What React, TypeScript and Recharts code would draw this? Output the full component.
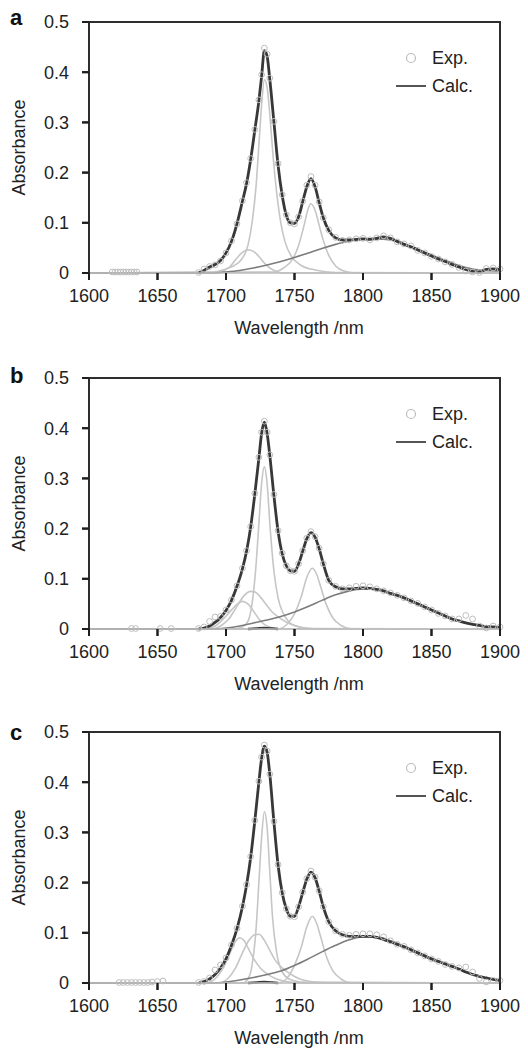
import { ComposedChart, Line, XAxis, YAxis } from "recharts";

const FONT = "'Liberation Sans', Arial, Helvetica, sans-serif";
const CALC_COLOR = "#383838";
const PEAK_COLOR = "#c6c6c6";
const BROAD_COLOR = "#7c7c7c";
const EXP_COLOR = "#bdbdbd";
const FRAME_COLOR = "#2e2e2e";
const TEXT_COLOR = "#222";
const TICK_LEN = 7;

// chart box (same numbers feed the Recharts margins)
const CHART_W = 528;
const CHART_H = 338;
const PLOT_LEFT = 89;
const PLOT_TOP = 22;
const PLOT_RIGHT_PAD = 28;
const X_AXIS_H = 40;
const BOTTOM_PAD = 25;
const PLOT_W = CHART_W - PLOT_LEFT - PLOT_RIGHT_PAD;
const PLOT_H = CHART_H - PLOT_TOP - X_AXIS_H - BOTTOM_PAD;

const X_MIN = 1600;
const X_MAX = 1900;
const Y_MAX = 0.5;
const X_TICKS = [1600, 1650, 1700, 1750, 1800, 1850, 1900];
const Y_TICKS = [0, 0.1, 0.2, 0.3, 0.4, 0.5];

// measured grid, nm
const WL = [
  1680, 1684, 1688, 1692, 1696,
  1700, 1704, 1708, 1712, 1715,
  1718, 1721, 1724, 1726, 1728,
  1730, 1732, 1735, 1738, 1741,
  1744, 1747, 1750, 1753, 1756,
  1759, 1762, 1765, 1768, 1771,
  1775, 1780, 1785, 1790, 1795,
  1800, 1805, 1810, 1815, 1820,
  1825, 1830, 1835, 1840, 1845,
  1850, 1855, 1860, 1865, 1870,
  1875, 1880, 1885, 1890, 1895,
  1900,
];

// ---- panel a ----
const CALC_A = [
  0, 0.005, 0.012, 0.017, 0.025,
  0.04, 0.063, 0.098, 0.143, 0.178,
  0.226, 0.284, 0.343, 0.392, 0.443,
  0.432, 0.385, 0.3, 0.215, 0.155,
  0.115, 0.1, 0.099, 0.112, 0.142,
  0.172, 0.188, 0.172, 0.14, 0.11,
  0.085, 0.07, 0.066, 0.066, 0.067,
  0.068, 0.067, 0.069, 0.072, 0.069,
  0.063, 0.057, 0.052, 0.046, 0.04,
  0.034, 0.028, 0.023, 0.017, 0.012,
  0.007, 0.003, 0.002, 0.007, 0.008,
  0.007,
];
const EXP_A = [
  0.001, 0.008, 0.013, 0.016, 0.024,
  0.04, 0.064, 0.098, 0.144, 0.18,
  0.228, 0.286, 0.345, 0.395, 0.448,
  0.436, 0.388, 0.302, 0.218, 0.156,
  0.116, 0.1, 0.098, 0.112, 0.143,
  0.175, 0.192, 0.175, 0.142, 0.11,
  0.086, 0.071, 0.065, 0.066, 0.068,
  0.069, 0.066, 0.07, 0.074, 0.07,
  0.062, 0.058, 0.054, 0.045, 0.04,
  0.033, 0.028, 0.022, 0.017, 0.011,
  0.004, 0.002, 0.001, 0.009, 0.01,
  0.008,
];
const EXP_LOW_A_WL = [1617, 1619, 1621, 1623, 1625, 1627, 1629, 1631, 1633, 1635];
const EXP_LOW_A = [0.002, 0.002, 0.002, 0.002, 0.002, 0.002, 0.002, 0.002, 0.002, 0.002];

const SMALL_A_WL = [1600, 1694, 1698, 1703, 1708, 1712, 1716, 1720, 1724, 1728, 1732, 1736, 1742, 1900];
const SMALL_A = [0, 0, 0.004, 0.013, 0.03, 0.041, 0.046, 0.043, 0.033, 0.02, 0.01, 0.004, 0, 0];
const MAIN_A_WL = [1600, 1690, 1700, 1706, 1711, 1716, 1719, 1722, 1724, 1726, 1728, 1730, 1732, 1734, 1737, 1740, 1743, 1748, 1755, 1765, 1780, 1900];
const MAIN_A = [0, 0.002, 0.008, 0.015, 0.026, 0.055, 0.1, 0.175, 0.255, 0.335, 0.385, 0.37, 0.315, 0.245, 0.16, 0.1, 0.063, 0.032, 0.015, 0.006, 0.001, 0];
const SIDE_A_WL = [1600, 1735, 1742, 1748, 1753, 1757, 1760, 1762, 1765, 1768, 1771, 1775, 1780, 1786, 1795, 1900];
const SIDE_A = [0, 0.002, 0.01, 0.025, 0.055, 0.095, 0.128, 0.138, 0.125, 0.095, 0.065, 0.035, 0.014, 0.004, 0, 0];

const BROAD_WL = [1600, 1690, 1700, 1710, 1720, 1730, 1740, 1750, 1760, 1770, 1780, 1790, 1800, 1810, 1820, 1830, 1840, 1850, 1860, 1870, 1880, 1890, 1900];
const BROAD_A = [0, 0, 0.002, 0.005, 0.01, 0.016, 0.023, 0.031, 0.04, 0.049, 0.057, 0.064, 0.067, 0.068, 0.066, 0.058, 0.047, 0.036, 0.025, 0.015, 0.008, 0.005, 0.004];

// ---- panel b ----
const CALC_B = [
  0, 0.002, 0.006, 0.013, 0.023,
  0.037, 0.057, 0.085, 0.12, 0.155,
  0.203, 0.268, 0.34, 0.39, 0.412,
  0.39, 0.345, 0.265, 0.195, 0.15,
  0.126, 0.116, 0.115, 0.13, 0.155,
  0.18, 0.192, 0.183, 0.16, 0.13,
  0.097, 0.084, 0.08, 0.08, 0.081,
  0.082, 0.081, 0.079, 0.076, 0.071,
  0.067, 0.062, 0.056, 0.05, 0.044,
  0.038, 0.032, 0.026, 0.02, 0.016,
  0.012, 0.009, 0.007, 0.005, 0.004,
  0.003,
];
const EXP_B = [
  0.001, 0.004, 0.015, 0.024, 0.025,
  0.038, 0.058, 0.086, 0.121, 0.156,
  0.204, 0.27, 0.342, 0.392, 0.414,
  0.392, 0.347, 0.268, 0.196, 0.151,
  0.126, 0.116, 0.115, 0.13, 0.156,
  0.181, 0.194, 0.184, 0.161, 0.13,
  0.097, 0.085, 0.08, 0.082, 0.085,
  0.086, 0.084, 0.08, 0.076, 0.072,
  0.067, 0.062, 0.056, 0.051, 0.044,
  0.038, 0.031, 0.026, 0.02, 0.02,
  0.027, 0.02, 0.006, 0.002, 0.006,
  0.004,
];
const EXP_LOW_B_WL = [1631, 1634, 1652, 1660];
const EXP_LOW_B = [0.001, 0.001, 0.001, 0.001];

const LOW1_B_WL = [1600, 1685, 1692, 1698, 1704, 1709, 1712, 1716, 1720, 1724, 1728, 1733, 1740, 1900];
const LOW1_B = [0, 0, 0.006, 0.02, 0.038, 0.051, 0.055, 0.05, 0.036, 0.02, 0.009, 0.003, 0, 0];
const LOW2_B_WL = [1600, 1690, 1696, 1702, 1708, 1713, 1718, 1721, 1725, 1729, 1733, 1738, 1744, 1750, 1758, 1770, 1900];
const LOW2_B = [0, 0, 0.006, 0.02, 0.045, 0.066, 0.075, 0.074, 0.064, 0.05, 0.036, 0.024, 0.014, 0.007, 0.002, 0, 0];
const MAIN_B_WL = [1600, 1705, 1712, 1716, 1719, 1722, 1724, 1726, 1728, 1730, 1732, 1735, 1738, 1742, 1746, 1752, 1760, 1900];
const MAIN_B = [0, 0, 0.004, 0.015, 0.05, 0.13, 0.21, 0.29, 0.323, 0.29, 0.21, 0.115, 0.062, 0.03, 0.014, 0.005, 0.001, 0];
const SIDE_B_WL = [1600, 1738, 1744, 1750, 1755, 1759, 1763, 1766, 1769, 1773, 1778, 1784, 1792, 1900];
const SIDE_B = [0, 0, 0.008, 0.03, 0.065, 0.103, 0.121, 0.11, 0.085, 0.05, 0.022, 0.007, 0, 0];
const BROAD_B = [0, 0, 0.002, 0.006, 0.012, 0.018, 0.025, 0.034, 0.045, 0.057, 0.068, 0.076, 0.08, 0.079, 0.072, 0.062, 0.05, 0.038, 0.026, 0.016, 0.009, 0.005, 0.003];

const RESID_WL = [1716, 1722, 1728, 1734, 1738];
const RESID_B = [0, 0.001, 0.002, 0.001, 0];

// ---- panel c ----
const CALC_C = [
  0, 0.003, 0.008, 0.017, 0.03,
  0.048, 0.075, 0.108, 0.152, 0.195,
  0.25, 0.322, 0.4, 0.448, 0.472,
  0.46, 0.415, 0.32, 0.235, 0.18,
  0.148, 0.133, 0.133, 0.152, 0.18,
  0.207, 0.221, 0.21, 0.183, 0.152,
  0.122, 0.104, 0.096, 0.093, 0.093,
  0.093, 0.093, 0.091, 0.087, 0.082,
  0.077, 0.072, 0.066, 0.06, 0.054,
  0.048, 0.043, 0.038, 0.033, 0.028,
  0.022, 0.017, 0.013, 0.01, 0.007,
  0.005,
];
const EXP_C = [
  0.001, 0.003, 0.01, 0.026, 0.036,
  0.05, 0.076, 0.109, 0.153, 0.196,
  0.252, 0.324, 0.402, 0.45, 0.474,
  0.462, 0.416, 0.322, 0.236, 0.18,
  0.148, 0.133, 0.132, 0.152, 0.181,
  0.208, 0.223, 0.211, 0.184, 0.152,
  0.122, 0.104, 0.097, 0.095, 0.097,
  0.098, 0.098, 0.096, 0.092, 0.084,
  0.077, 0.073, 0.066, 0.06, 0.054,
  0.048, 0.043, 0.037, 0.033, 0.03,
  0.032, 0.022, 0.009, 0.002, 0.005,
  0.005,
];
const EXP_LOW_C_WL = [1622, 1625, 1628, 1631, 1634, 1637, 1640, 1643, 1646, 1650, 1654];
const EXP_LOW_C = [0.001, 0.001, 0.001, 0.001, 0.001, 0.001, 0.001, 0.001, 0.002, 0.003, 0.004];

const LOW1_C_WL = [1600, 1686, 1692, 1698, 1703, 1707, 1710, 1713, 1717, 1721, 1725, 1730, 1736, 1744, 1755, 1900];
const LOW1_C = [0, 0, 0.008, 0.03, 0.06, 0.083, 0.09, 0.085, 0.065, 0.045, 0.03, 0.018, 0.009, 0.003, 0, 0];
const LOW2_C_WL = [1600, 1695, 1701, 1707, 1712, 1717, 1721, 1724, 1728, 1732, 1736, 1741, 1747, 1754, 1762, 1775, 1900];
const LOW2_C = [0, 0, 0.008, 0.03, 0.06, 0.086, 0.096, 0.097, 0.085, 0.065, 0.045, 0.03, 0.018, 0.008, 0.003, 0, 0];
const MAIN_C_WL = [1600, 1712, 1716, 1719, 1722, 1724, 1726, 1728, 1730, 1732, 1734, 1737, 1741, 1746, 1755, 1900];
const MAIN_C = [0, 0, 0.008, 0.035, 0.11, 0.2, 0.29, 0.341, 0.31, 0.22, 0.13, 0.06, 0.022, 0.008, 0.002, 0];
const SIDE_C_WL = [1600, 1738, 1744, 1750, 1755, 1759, 1763, 1766, 1769, 1773, 1778, 1784, 1792, 1900];
const SIDE_C = [0, 0, 0.008, 0.035, 0.072, 0.112, 0.133, 0.12, 0.093, 0.055, 0.024, 0.008, 0, 0];
const BROAD_C = [0, 0, 0.002, 0.006, 0.011, 0.017, 0.024, 0.035, 0.048, 0.062, 0.075, 0.086, 0.092, 0.092, 0.084, 0.073, 0.061, 0.049, 0.038, 0.028, 0.018, 0.01, 0.005];
const RESID_C = [0, 0.001, 0.002, 0.001, 0];

type Pt = { x: number; y: number };
const pts = (xs: number[], ys: number[]): Pt[] => xs.map((x, i) => ({ x, y: ys[i] }));

// pixel position of an axis tick inside the plot box (for the frame overlay)
const tickX = (v: number) => PLOT_LEFT + ((v - X_MIN) / (X_MAX - X_MIN)) * PLOT_W;
const tickY = (v: number) => PLOT_TOP + PLOT_H - (v / Y_MAX) * PLOT_H;

interface PanelProps {
  letter: string;
  letterY: number;
  top: number;
  calc: Pt[];
  exp: Pt[];
  expLow: Pt[];
  peaks: Pt[][];
  broad: Pt[];
  resid?: Pt[];
}

function LegendBox() {
  return (
    <div style={{ position: "absolute", top: 44, left: 396, fontFamily: FONT, fontSize: 18, color: TEXT_COLOR, lineHeight: "28px" }}>
      <div style={{ display: "flex", alignItems: "center", height: 28 }}>
        <svg width={30} height={28} style={{ marginRight: 6 }}>
          <circle cx={15} cy={14} r={4.5} fill="none" stroke={EXP_COLOR} strokeWidth={1.2} />
        </svg>
        <span>Exp.</span>
      </div>
      <div style={{ display: "flex", alignItems: "center", height: 28 }}>
        <svg width={30} height={28} style={{ marginRight: 6 }}>
          <line x1={0} y1={14} x2={30} y2={14} stroke="#555" strokeWidth={2} />
        </svg>
        <span>Calc.</span>
      </div>
    </div>
  );
}

function Panel({ letter, letterY, top, calc, exp, expLow, peaks, broad, resid }: PanelProps) {
  const expDot = { r: 2.9, stroke: EXP_COLOR, strokeWidth: 1, fill: "none" };
  const tickFont = { fontSize: 18, fontFamily: FONT, fill: TEXT_COLOR };
  const plotBottom = PLOT_TOP + PLOT_H;
  const plotRight = PLOT_LEFT + PLOT_W;
  return (
    <div style={{ position: "absolute", left: 0, top, width: CHART_W, height: CHART_H }}>
      <ComposedChart width={CHART_W} height={CHART_H} margin={{ top: PLOT_TOP, right: PLOT_RIGHT_PAD, bottom: BOTTOM_PAD, left: 0 }}>
        <XAxis
          dataKey="x"
          type="number"
          domain={[X_MIN, X_MAX]}
          ticks={X_TICKS}
          height={X_AXIS_H}
          tickSize={TICK_LEN}
          tickMargin={9}
          axisLine={{ stroke: "#bdbdbd", strokeWidth: 1.5 }}
          tickLine={{ stroke: "#1e1e1e", strokeWidth: 2 }}
          tick={tickFont}
        />
        <YAxis
          type="number"
          domain={[0, Y_MAX]}
          ticks={Y_TICKS}
          width={PLOT_LEFT}
          tickSize={TICK_LEN}
          tickMargin={13}
          axisLine={{ stroke: FRAME_COLOR, strokeWidth: 2 }}
          tickLine={{ stroke: "#1e1e1e", strokeWidth: 2 }}
          tick={tickFont}
        />
        {peaks.map((p, i) => (
          <Line key={i} data={p} dataKey="y" type="monotone" stroke={PEAK_COLOR} strokeWidth={1.6} dot={false} isAnimationActive={false} />
        ))}
        <Line data={broad} dataKey="y" type="monotone" stroke={BROAD_COLOR} strokeWidth={1.6} dot={false} isAnimationActive={false} />
        <Line data={exp} dataKey="y" stroke="none" dot={expDot} activeDot={false} isAnimationActive={false} />
        <Line data={expLow} dataKey="y" stroke="none" dot={expDot} activeDot={false} isAnimationActive={false} />
        <Line data={calc} dataKey="y" type="monotone" stroke={CALC_COLOR} strokeWidth={2.8} dot={false} isAnimationActive={false} />
        {resid && <Line data={resid} dataKey="y" type="monotone" stroke={CALC_COLOR} strokeWidth={2.4} dot={false} isAnimationActive={false} />}
      </ComposedChart>
      {/* box frame, outward tick marks and titles */}
      <svg style={{ position: "absolute", left: 0, top: 0, pointerEvents: "none" }} width={CHART_W} height={CHART_H}>
        <polyline
          points={`${PLOT_LEFT},${PLOT_TOP} ${plotRight},${PLOT_TOP} ${plotRight},${plotBottom}`}
          fill="none"
          stroke={FRAME_COLOR}
          strokeWidth={2}
        />
        <line x1={PLOT_LEFT} y1={PLOT_TOP} x2={PLOT_LEFT} y2={plotBottom} stroke={FRAME_COLOR} strokeWidth={2} />
        {X_TICKS.map((t) => (
          <line key={`x${t}`} x1={tickX(t)} y1={plotBottom} x2={tickX(t)} y2={plotBottom + TICK_LEN} stroke="#1e1e1e" strokeWidth={2} />
        ))}
        {Y_TICKS.map((t) => (
          <line key={`y${t}`} x1={PLOT_LEFT - TICK_LEN} y1={tickY(t)} x2={PLOT_LEFT} y2={tickY(t)} stroke="#1e1e1e" strokeWidth={2} />
        ))}
        <text x={10} y={letterY} fontFamily={FONT} fontWeight="bold" fontSize={22} fill="#111">
          {letter}
        </text>
        <text x={0} y={0} transform="translate(25 147.5) rotate(-90)" textAnchor="middle" fontFamily={FONT} fontSize={18} fill={TEXT_COLOR}>
          Absorbance
        </text>
        <text x={299} y={334} textAnchor="middle" fontFamily={FONT} fontSize={18} fill={TEXT_COLOR}>
          Wavelength /nm
        </text>
      </svg>
      <LegendBox />
    </div>
  );
}

export default function App() {
  return (
    <div style={{ position: "absolute", left: 0, top: 0, width: 528, height: 1048, overflow: "hidden", background: "#fff" }}>
      <Panel
        letter="a"
        letterY={25}
        top={0}
        calc={pts(WL, CALC_A)}
        exp={pts(WL, EXP_A)}
        expLow={pts(EXP_LOW_A_WL, EXP_LOW_A)}
        peaks={[pts(SMALL_A_WL, SMALL_A), pts(MAIN_A_WL, MAIN_A), pts(SIDE_A_WL, SIDE_A)]}
        broad={pts(BROAD_WL, BROAD_A)}
      />
      <Panel
        letter="b"
        letterY={27}
        top={356}
        calc={pts(WL, CALC_B)}
        exp={pts(WL, EXP_B)}
        expLow={pts(EXP_LOW_B_WL, EXP_LOW_B)}
        peaks={[pts(LOW1_B_WL, LOW1_B), pts(LOW2_B_WL, LOW2_B), pts(MAIN_B_WL, MAIN_B), pts(SIDE_B_WL, SIDE_B)]}
        broad={pts(BROAD_WL, BROAD_B)}
        resid={pts(RESID_WL, RESID_B)}
      />
      <Panel
        letter="c"
        letterY={30}
        top={710}
        calc={pts(WL, CALC_C)}
        exp={pts(WL, EXP_C)}
        expLow={pts(EXP_LOW_C_WL, EXP_LOW_C)}
        peaks={[pts(LOW1_C_WL, LOW1_C), pts(LOW2_C_WL, LOW2_C), pts(MAIN_C_WL, MAIN_C), pts(SIDE_C_WL, SIDE_C)]}
        broad={pts(BROAD_WL, BROAD_C)}
        resid={pts(RESID_WL, RESID_C)}
      />
    </div>
  );
}
